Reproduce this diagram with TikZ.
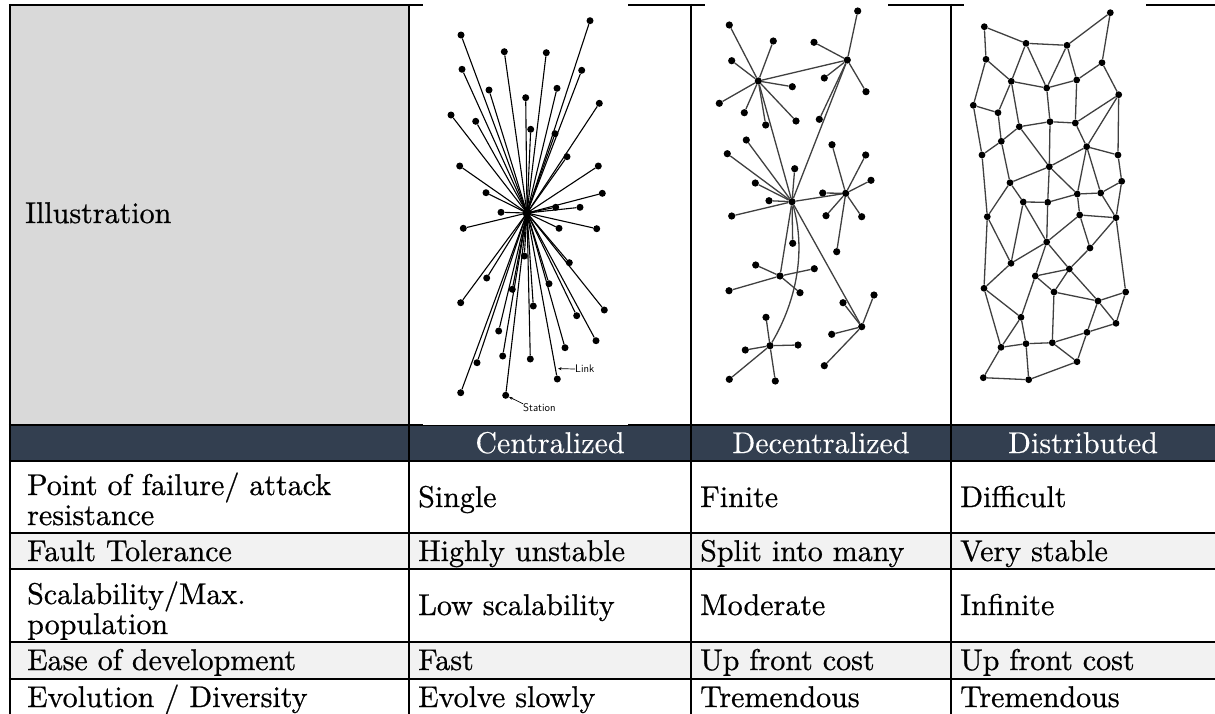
\documentclass[tikz,border=0pt]{standalone}
\usepackage{graphicx}
\usetikzlibrary{arrows.meta}

\definecolor{headbg}{HTML}{333F50}
\definecolor{illbg}{HTML}{D9D9D9}
\definecolor{bandbg}{HTML}{F2F2F2}
\definecolor{netline}{HTML}{404040}

% slightly heavier Latin Modern for the table cells
\font\cellfnt="[lmroman10-regular]:embolden=0.7" at 30pt
\font\headfnt="[lmroman10-regular]:embolden=0.3" at 30pt
\newcommand{\cellfont}{\cellfnt}
\newcommand{\headfont}{\headfnt}
\newcommand{\tagfont}{\sffamily\fontsize{11}{11}\selectfont}

\begin{document}
\begin{tikzpicture}[x=1pt,y=-1pt,
  grid/.style={line width=2.2pt, black},
  cell/.style={font=\cellfont, anchor=base west, inner sep=0pt},
  headtxt/.style={font=\headfont, anchor=base, inner sep=0pt, text=white},
  cdot/.style={circle, fill=black, inner sep=0pt, minimum size=7pt},
  hubdot/.style={circle, fill=black, inner sep=0pt, minimum size=9pt},
  ddot/.style={circle, fill=black, inner sep=0pt, minimum size=7.2pt},
  mdot/.style={circle, fill=black, inner sep=0pt, minimum size=6.8pt},
  clink/.style={line width=1.1pt, black},
  dlink/.style={line width=1.3pt, netline},
  mlink/.style={line width=1.3pt, netline},
  tag/.style={font=\tagfont, inner sep=0pt, anchor=west}
]
\useasboundingbox (0,0) rectangle (1215,713);
\clip (0,0) rectangle (1215,713);

% ---------- table background ----------
\fill[illbg]  (10,5)   rectangle (409,425);
\fill[headbg] (10,425) rectangle (1216,461);
\fill[bandbg] (10,533) rectangle (1216,569);
\fill[bandbg] (10,642) rectangle (1216,679);

% ---------- rules ----------
\foreach \y in {5,425,461,533,569,642,679}
  \draw[grid] (8.9,\y) -- (1216,\y);
\foreach \x in {10,409,691,951}
  \draw[grid] (\x,3.9) -- (\x,716);

% white backings of the three network pictures
\fill[white] (423,3) rectangle (628,425);
\fill[white] (705,3) rectangle (888,420);
\fill[white] (964,3) rectangle (1146,420);

% ---------- texts ----------
\node[cell] (ill) at (25,223) {Illustration};

\node[headtxt] (hcen) at (550,453)  {Centralized};
\node[headtxt] (hdec) at (821,453)  {Decentralized};
\node[headtxt] (hdis) at (1083,453) {Distributed};

\node[cell] (r1a) at (27,495) {Point of failure/ attack};
\node[cell] (r1b) at (27,525) {resistance};
\node[cell] (r1c) at (418,507) {Single};
\node[cell] (r1d) at (700,507) {Finite};
\node[cell] (r1e) at (960,507) {Difficult};

\node[cell] (r2a) at (27,561)  {Fault Tolerance};
\node[cell] (r2c) at (418,561) {Highly unstable};
\node[cell] (r2d) at (700,561) {Split into many};
\node[cell] (r2e) at (960,561) {Very stable};

\node[cell] (r3a) at (27,604)  {Scalability/Max.};
\node[cell] (r3b) at (27,634)  {population};
\node[cell] (r3c) at (418,615) {Low scalability};
\node[cell] (r3d) at (700,615) {Moderate};
\node[cell] (r3e) at (960,615) {Infinite};

\node[cell] (r4a) at (27,670)  {Ease of development};
\node[cell] (r4c) at (418,670) {Fast};
\node[cell] (r4d) at (700,670) {Up front cost};
\node[cell] (r4e) at (960,670) {Up front cost};

\node[cell] (r5a) at (27,707)  {Evolution / Diversity};
\node[cell] (r5c) at (418,707) {Evolve slowly};
\node[cell] (r5d) at (700,707) {Tremendous};
\node[cell] (r5e) at (960,707) {Tremendous};

% ---------- centralized network ----------
\node[hubdot] (chub) at (527,213) {};
\foreach \n/\x/\y in {cn1/590/20.7, cn2/461/35, cn3/504.3/51.7, cn4/546.3/52.7,
  cn5/462/69.3, cn6/581.7/70.3, cn7/489/90, cn8/557/88.3, cn9/525.7/97.7,
  cn10/599.3/103.3, cn11/451/115, cn12/475.7/121.3, cn13/530.7/129.3,
  cn14/555/133.7, cn15/567/156.7, cn16/459.7/166, cn17/598.3/166,
  cn18/486/192.7, cn19/602.3/193.3, cn20/555.7/207.3, cn21/580/207.3,
  cn22/501/212.3, cn23/463.3/228.3, cn24/559/228.3, cn25/596.7/228.7,
  cn26/524.3/256, cn27/569.3/262.7, cn28/486.7/278, cn29/549/283.7,
  cn30/512.3/289.3, cn31/460.7/302.7, cn32/533.3/306, cn33/604.3/310,
  cn34/576.7/315.7, cn35/498.7/331, cn36/596/340.7, cn37/565/347.7,
  cn38/502.7/356, cn39/530.3/359, cn40/477/362.7, cn41/557.3/379,
  cn42/460.7/392.7, cn43/505.7/395.3}
{
  \node[cdot] (\n) at (\x,\y) {};
  \draw[clink] (chub.center) -- (\n);
}
\coordinate (linkpt) at (558,368.6);
\node[tag] (linklbl) at (575,369) {Link};
\draw[line width=0.7pt, -{Stealth[length=3.5pt,width=3pt]}] (linklbl.west) -- (linkpt);
\node[tag] (stlbl) at (523,408) {Station};
\draw[line width=0.7pt, -{Stealth[length=3.5pt,width=3pt]}] (stlbl.north west) -- (cn43);

% ---------- decentralized network ----------
\foreach \n/\x/\y in {dh1/758.3/81, dh2/847.3/60, dh3/792/201.7, dh4/845.7/193.3,
  dh5/780/276, dh6/861.7/326.7, dh7/770/345.7}
  \node[ddot] (\n) at (\x,\y) {};
\foreach \n/\x/\y in {
  a1/729.3/25, a2/773.3/41, a3/731.7/60.7, a4/792.3/86.7, a5/719.3/103.3,
  a6/744.3/112.7, a7/765.7/125, a8/796/121,
  b1/857.7/11, b2/814/42.3, b3/824.3/78, b4/866/91.7, b5/819.3/119.3,
  c1/746.3/140, c2/727.3/153.7, c3/794.7/168.7, c4/755.3/183, c5/769/200.7,
  c6/731.7/216, c7/792.7/243.3,
  e1/832/144.7, e2/865.7/155, e3/871/180.3, e4/822.7/193, e5/826/215.7,
  e6/861.7/216.7, e7/836.7/251.7,
  f1/755.7/265, f2/814.3/268.7, f3/729/290.7, f4/800/292.7,
  g1/874/295, g2/843/302.7, g3/831.7/334.3, g4/824.3/365.7,
  k1/766/317.3, k2/745.3/350, k3/798/345, k4/729.3/379.3, k5/775.3/381}
  \node[ddot] (\n) at (\x,\y) {};
\foreach \h/\l in {dh1/a1, dh1/a2, dh1/a3, dh1/a4, dh1/a5, dh1/a6, dh1/a7, dh1/a8,
  dh2/b1, dh2/b2, dh2/b3, dh2/b4, dh2/b5,
  dh3/c1, dh3/c2, dh3/c3, dh3/c4, dh3/c5, dh3/c6, dh3/c7,
  dh4/e1, dh4/e2, dh4/e3, dh4/e4, dh4/e5, dh4/e6, dh4/e7,
  dh5/f1, dh5/f2, dh5/f3, dh5/f4,
  dh6/g1, dh6/g2, dh6/g3, dh6/g4,
  dh7/k1, dh7/k2, dh7/k3, dh7/k4, dh7/k5,
  dh1/dh2, dh1/dh3, dh2/dh3, dh3/dh4, dh3/dh5, dh3/dh6}
  \draw[dlink] (\h) -- (\l);
\draw[dlink] (dh3) .. controls (806,250) and (797,300) .. (dh7);

% ---------- distributed network ----------
\foreach \n/\x/\y in {
  m1/1110.3/12.7, m2/984.3/26.7, m3/1026/43.3, m4/1067/45.3, m5/986/59.3,
  m6/1102/62.7, m7/1011.3/81.3, m8/1046.7/88, m9/1076.7/80, m10/1118.7/94.7,
  m11/973.3/105.3, m12/998/112.7, m13/1019.3/126.7, m14/1050/121.7,
  m15/1075.3/123, m16/1001.3/141.3, m17/1086.7/146.7, m18/982/155,
  m19/1118/155, m20/1049.3/166.7, m21/1010/182.7, m22/1121.7/181.3,
  m23/1077.3/194, m24/1100.7/193, m25/1023.3/202, m26/1047.7/202.3,
  m27/987.3/216.7, m28/1079.7/215, m29/1116/217.7, m30/1046.7/242,
  m31/1090/248, m32/1011/263.3, m33/1069.3/269, m34/1035.3/276,
  m35/984/288.3, m36/1054/292, m37/1125.7/292, m38/1098/301,
  m39/1021/317.3, m40/1116/323.3, m41/1087/332.3, m42/1001/347.3,
  m43/1026/343.7, m44/1052.3/342.7, m45/1077/361.7, m46/983.3/377.7,
  m47/1028.7/379.7}
  \node[mdot] (\n) at (\x,\y) {};
\foreach \a/\b in {m2/m3, m3/m4, m4/m1, m1/m6, m2/m5, m3/m7, m3/m8, m4/m8,
  m4/m9, m5/m7, m5/m11, m7/m8, m8/m9, m9/m6, m6/m10, m7/m12, m11/m12,
  m7/m13, m8/m14, m9/m15, m13/m14, m14/m15, m15/m17, m10/m15, m10/m17, m10/m19,
  m12/m16, m13/m16, m11/m18, m16/m18, m13/m20, m14/m20, m17/m20, m16/m21,
  m20/m21, m17/m19, m19/m22, m17/m23, m17/m24, m18/m27, m21/m27, m21/m25,
  m20/m23, m23/m24, m22/m24, m24/m29, m22/m29, m25/m26, m26/m23, m20/m26,
  m23/m28, m28/m29, m25/m32, m25/m30, m26/m30, m28/m30, m28/m31,
  m29/m31, m27/m32, m27/m35, m30/m32, m30/m34, m30/m33, m31/m33, m32/m35,
  m33/m34, m34/m36, m33/m36, m33/m38, m29/m37, m36/m38, m37/m38, m37/m40,
  m38/m40, m35/m39, m34/m39, m36/m44, m39/m42, m39/m43, m38/m41,
  m40/m41, m41/m45, m41/m44, m42/m43, m43/m44, m44/m45, m35/m42,
  m42/m46, m43/m47, m45/m47, m46/m47}
  \draw[mlink] (\a) -- (\b);
\end{tikzpicture}
\end{document}
